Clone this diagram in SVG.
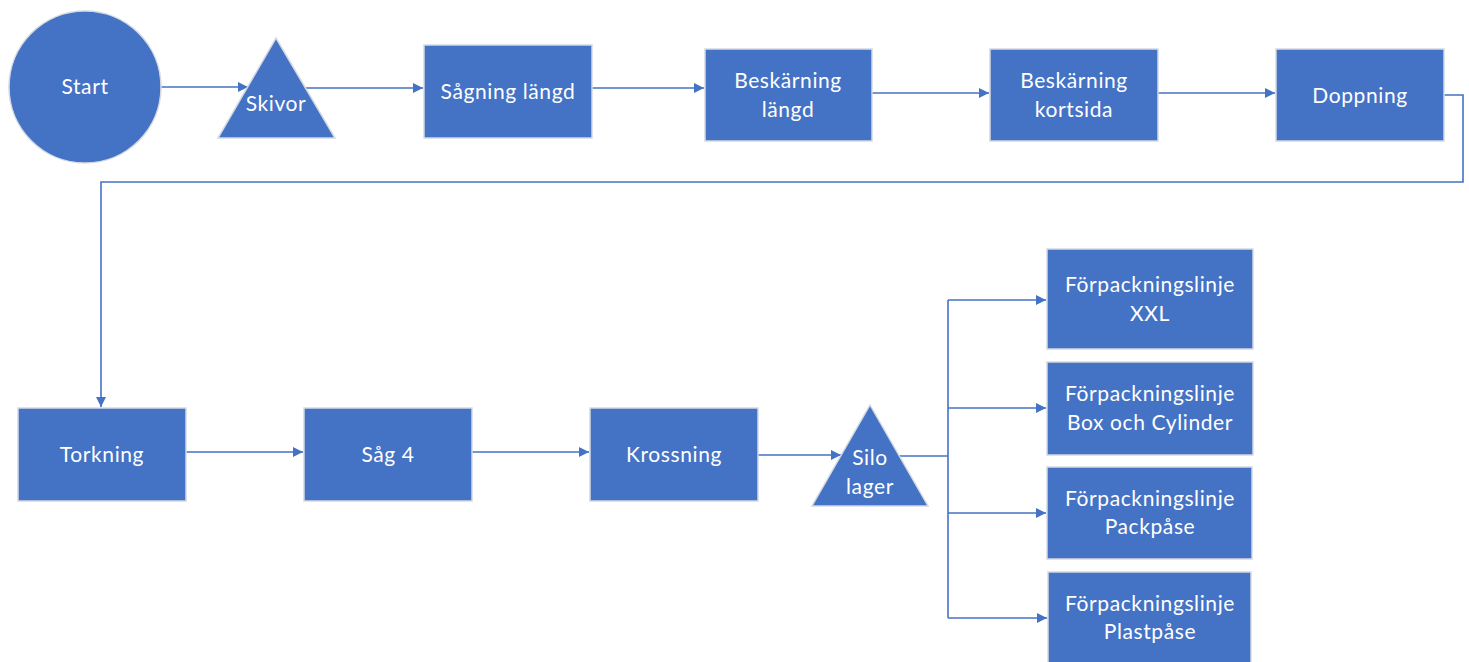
<svg xmlns="http://www.w3.org/2000/svg" width="1469" height="662" viewBox="0 0 1469 662">
  <style>
    .shape { fill: #4472C4; stroke: #D4D9E2; stroke-width: 1.5; }
    .label { fill: #FFFFFF; font-family: Lato, "Open Sans", "Liberation Sans", sans-serif; font-size: 21px; letter-spacing: 0.6px; text-anchor: middle; }
    .wire { fill: none; stroke: #4472C4; stroke-width: 1.6; }
  </style>
  <defs>
    <marker id="arrow" viewBox="0 0 10 10" refX="10" refY="5" markerWidth="10" markerHeight="10" markerUnits="userSpaceOnUse" orient="auto">
      <path d="M0,0 L10,5 L0,10 z" fill="#4472C4"/>
    </marker>
  </defs>
  <rect width="1469" height="662" fill="#FFFFFF"/>

  <g id="connectors">
    <line class="wire" x1="161" y1="87" x2="248" y2="87" marker-end="url(#arrow)"/>
    <line class="wire" x1="306" y1="88" x2="423" y2="88" marker-end="url(#arrow)"/>
    <line class="wire" x1="592" y1="88" x2="704" y2="88" marker-end="url(#arrow)"/>
    <line class="wire" x1="872" y1="93" x2="989" y2="93" marker-end="url(#arrow)"/>
    <line class="wire" x1="1158" y1="93" x2="1275" y2="93" marker-end="url(#arrow)"/>
    <polyline class="wire" points="1444,95 1463,95 1463,182 101,182 101,407" marker-end="url(#arrow)"/>
    <line class="wire" x1="186" y1="452" x2="303" y2="452" marker-end="url(#arrow)"/>
    <line class="wire" x1="472" y1="452" x2="589" y2="452" marker-end="url(#arrow)"/>
    <line class="wire" x1="758" y1="455" x2="841" y2="455" marker-end="url(#arrow)"/>
    <polyline class="wire" points="899,456 948,456"/>
    <line class="wire" x1="948" y1="300" x2="948" y2="618"/>
    <line class="wire" x1="948" y1="300" x2="1046" y2="300" marker-end="url(#arrow)"/>
    <line class="wire" x1="948" y1="408" x2="1046" y2="408" marker-end="url(#arrow)"/>
    <line class="wire" x1="948" y1="513" x2="1046" y2="513" marker-end="url(#arrow)"/>
    <line class="wire" x1="948" y1="618" x2="1047" y2="618" marker-end="url(#arrow)"/>
  </g>

  <g id="start">
    <circle class="shape" cx="85" cy="87" r="76"/>
    <text class="label" x="85" y="94">Start</text>
  </g>
  <g id="skivor">
    <polygon class="shape" points="276,38 335,138 218,138"/>
    <text class="label" x="276" y="111">Skivor</text>
  </g>
  <g id="sagning-langd">
    <rect class="shape" x="424" y="45" width="168" height="93"/>
    <text class="label" x="508" y="99">Sågning längd</text>
  </g>
  <g id="beskarning-langd">
    <rect class="shape" x="705" y="49" width="167" height="92"/>
    <text class="label" x="788" y="88">Beskärning</text>
    <text class="label" x="788" y="117">längd</text>
  </g>
  <g id="beskarning-kortsida">
    <rect class="shape" x="990" y="49" width="168" height="92"/>
    <text class="label" x="1074" y="88">Beskärning</text>
    <text class="label" x="1074" y="117">kortsida</text>
  </g>
  <g id="doppning">
    <rect class="shape" x="1276" y="49" width="168" height="92"/>
    <text class="label" x="1360" y="103">Doppning</text>
  </g>
  <g id="torkning">
    <rect class="shape" x="18" y="408" width="168" height="93"/>
    <text class="label" x="102" y="462">Torkning</text>
  </g>
  <g id="sag-4">
    <rect class="shape" x="304" y="408" width="168" height="93"/>
    <text class="label" x="388" y="462">Såg 4</text>
  </g>
  <g id="krossning">
    <rect class="shape" x="590" y="408" width="168" height="93"/>
    <text class="label" x="674" y="462">Krossning</text>
  </g>
  <g id="silo-lager">
    <polygon class="shape" points="870,405 928,506 812,506"/>
    <text class="label" x="870" y="465">Silo</text>
    <text class="label" x="870" y="494">lager</text>
  </g>
  <g id="linje-xxl">
    <rect class="shape" x="1047" y="249" width="206" height="100"/>
    <text class="label" x="1150" y="292">Förpackningslinje</text>
    <text class="label" x="1150" y="321">XXL</text>
  </g>
  <g id="linje-box-cylinder">
    <rect class="shape" x="1047" y="362" width="206" height="93"/>
    <text class="label" x="1150" y="401">Förpackningslinje</text>
    <text class="label" x="1150" y="430">Box och Cylinder</text>
  </g>
  <g id="linje-packpase">
    <rect class="shape" x="1047" y="467" width="205" height="92"/>
    <text class="label" x="1150" y="506">Förpackningslinje</text>
    <text class="label" x="1150" y="534">Packpåse</text>
  </g>
  <g id="linje-plastpase">
    <rect class="shape" x="1048" y="572" width="203" height="96"/>
    <text class="label" x="1150" y="611">Förpackningslinje</text>
    <text class="label" x="1150" y="639">Plastpåse</text>
  </g>
</svg>
